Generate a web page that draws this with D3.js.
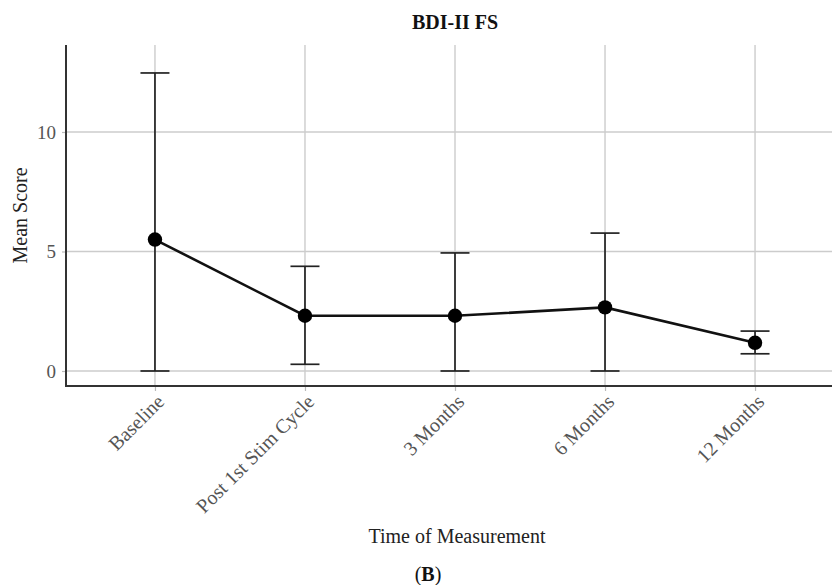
<!DOCTYPE html>
<html>
<head>
<meta charset="utf-8">
<script src="https://cdn.jsdelivr.net/npm/d3@7"></script>
<style>
  html, body { margin: 0; padding: 0; background: #fff; }
  svg { display: block; }
  text { font-family: "Liberation Serif", "Times New Roman", serif; }
</style>
</head>
<body>
<svg id="chart" width="832" height="585"></svg>
<script>
const categories = ["Baseline", "Post 1st Stim Cycle", "3 Months", "6 Months", "12 Months"];
const means = [5.5, 2.31, 2.31, 2.66, 1.18];
const upper = [12.47, 4.38, 4.94, 5.77, 1.67];
const lower = [0, 0.28, 0, 0, 0.72];
const yTicks = [0, 5, 10];

const title = "BDI-II FS";
const xTitle = "Time of Measurement";
const yTitle = "Mean Score";

const data = categories.map((c, i) => ({ cat: c, mean: means[i], hi: upper[i], lo: lower[i] }));

const svg = d3.select("#chart");
const panel = { left: 66, right: 844, top: 45, bottom: 386 };

const x = d3.scalePoint().domain(categories).range([panel.left, panel.right]).padding(0.593);
const y = d3.scaleLinear().domain([-0.628, 13.64]).range([panel.bottom, panel.top]);

// grid
const grid = svg.append("g");
grid.selectAll("line.h").data(yTicks).join("line")
  .attr("x1", panel.left).attr("x2", panel.right)
  .attr("y1", d => y(d)).attr("y2", d => y(d))
  .attr("stroke", "#cccccc").attr("stroke-width", 1.4);
grid.selectAll("line.v").data(categories).join("line")
  .attr("x1", d => x(d)).attr("x2", d => x(d))
  .attr("y1", panel.top).attr("y2", panel.bottom)
  .attr("stroke", "#cccccc").attr("stroke-width", 1.4);

// y axis
const yAxis = svg.append("g").attr("transform", `translate(${panel.left},0)`)
  .call(d3.axisLeft(y).tickValues(yTicks).tickSize(4).tickPadding(6).tickFormat(d3.format("d")));
yAxis.select(".domain").remove();
yAxis.selectAll(".tick line").attr("stroke", "#bbbbbb").attr("stroke-width", 1.2);
yAxis.selectAll(".tick text").attr("fill", "#555555").style("font-size", "19px")
  .style("font-family", "'Liberation Serif', serif");

// x axis
const xAxis = svg.append("g").attr("transform", `translate(0,${panel.bottom})`)
  .call(d3.axisBottom(x).tickSize(5).tickPadding(0));
xAxis.select(".domain").remove();
xAxis.selectAll(".tick line").attr("stroke", "#bbbbbb").attr("stroke-width", 1.2);
xAxis.selectAll(".tick text")
  .attr("fill", "#555555").style("font-size", "20px")
  .style("font-family", "'Liberation Serif', serif")
  .attr("text-anchor", "end")
  .attr("x", 0).attr("y", 0).attr("dy", "0")
  .attr("transform", "translate(10,17) rotate(-45)");

// axis lines
svg.append("line").attr("x1", panel.left).attr("x2", panel.left)
  .attr("y1", panel.top).attr("y2", panel.bottom + 1)
  .attr("stroke", "#333333").attr("stroke-width", 2);
svg.append("line").attr("x1", panel.left - 1).attr("x2", panel.right)
  .attr("y1", panel.bottom).attr("y2", panel.bottom)
  .attr("stroke", "#333333").attr("stroke-width", 2);

// error bars
const eb = svg.append("g").attr("stroke", "#222222").attr("stroke-width", 1.7);
eb.selectAll("line.stem").data(data).join("line")
  .attr("x1", d => x(d.cat)).attr("x2", d => x(d.cat))
  .attr("y1", d => y(d.hi)).attr("y2", d => y(d.lo));
eb.selectAll("line.capHi").data(data).join("line")
  .attr("x1", d => x(d.cat) - 14.5).attr("x2", d => x(d.cat) + 14.5)
  .attr("y1", d => y(d.hi)).attr("y2", d => y(d.hi));
eb.selectAll("line.capLo").data(data).join("line")
  .attr("x1", d => x(d.cat) - 14.5).attr("x2", d => x(d.cat) + 14.5)
  .attr("y1", d => y(d.lo)).attr("y2", d => y(d.lo));

// line
svg.append("path").datum(data)
  .attr("fill", "none").attr("stroke", "#111111").attr("stroke-width", 2.6)
  .attr("d", d3.line().x(d => x(d.cat)).y(d => y(d.mean)));

// points
svg.selectAll("circle.pt").data(data).join("circle")
  .attr("cx", d => x(d.cat)).attr("cy", d => y(d.mean)).attr("r", 7.2)
  .attr("fill", "#000000");

// titles
svg.append("text").attr("x", (panel.left + panel.right) / 2).attr("y", 29)
  .attr("text-anchor", "middle").style("font-size", "20px").style("font-weight", "bold")
  .attr("fill", "#111").text(title);

svg.append("text").attr("x", (panel.left + panel.right) / 2 + 2).attr("y", 543)
  .attr("text-anchor", "middle").style("font-size", "20px").attr("fill", "#222").text(xTitle);

svg.append("text").attr("transform", `translate(27,${(panel.top + panel.bottom) / 2}) rotate(-90)`)
  .attr("text-anchor", "middle").style("font-size", "20px").attr("fill", "#222").text(yTitle);

const cap = svg.append("text").attr("x", 428).attr("y", 581)
  .attr("text-anchor", "middle").style("font-size", "20px").attr("fill", "#111");
cap.append("tspan").text("(");
cap.append("tspan").style("font-weight", "bold").text("B");
cap.append("tspan").text(")");
</script>
</body>
</html>
